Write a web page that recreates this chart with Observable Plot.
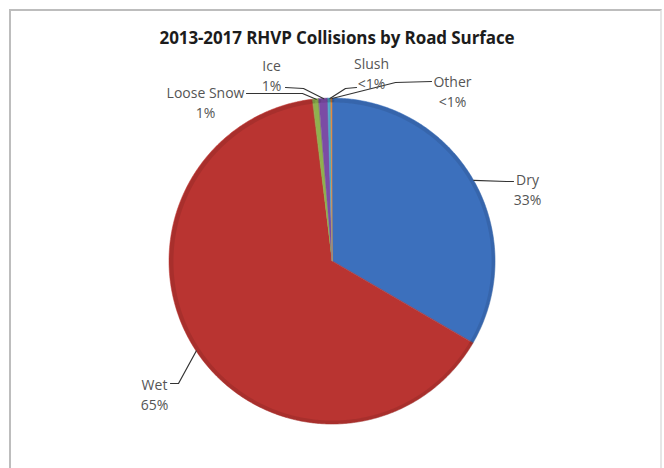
<!DOCTYPE html>
<html><head><meta charset="utf-8">
<script src="https://cdn.jsdelivr.net/npm/d3@7"></script>
<script src="https://cdn.jsdelivr.net/npm/@observablehq/plot@0.6"></script>
<style>
html,body{margin:0;padding:0;background:#fff;}
#wrap{position:relative;width:664px;height:468px;overflow:hidden;background:#fff;}
#frame{position:absolute;left:9px;top:9px;width:649px;height:480px;border:2px solid #bdbdbd;border-bottom:none;border-right-color:#e6e6e6;}
#title{position:absolute;left:5px;width:664px;top:26px;text-align:center;font-family:"Open Sans";font-weight:700;font-size:17px;color:#1c1c1c;letter-spacing:-0.1px;}
#chart{position:absolute;left:0;top:0;}
</style>
</head><body>
<div id="wrap"><div id="frame"></div><div id="chart"></div><div id="title">2013-2017 RHVP Collisions by Road Surface</div></div>
<script>
// ---- data ----
const categories = ["Dry", "Wet", "Loose Snow", "Ice", "Slush", "Other"];
const shares = [33.4, 64.7, 0.6, 0.9, 0.3, 0.1]; // percent
const colors = ["#3c70bd", "#b93431", "#8fb14e", "#7b4ca5", "#4aaac7", "#e8893a"];

// ---- layout (pixels) ----
const CX = 332, CY = 261, R = 163;
const u = (px, py) => ({x: (px - CX) / R, y: (CY - py) / R});
// label block centre, and leader path (elbow points) from label toward slice
const labelLayout = {
  "Dry":        {c: [527, 188], path: [[506, 181], [513, 181]]},
  "Wet":        {c: [154, 393], path: [[178, 383], [170, 383]]},
  "Loose Snow": {c: [205, 101], path: [[302, 93], [246, 93]]},
  "Ice":        {c: [271, 74],  path: [[303, 88], [285, 87]]},
  "Slush":      {c: [371, 72],  path: [[345, 88], [356, 87]]},
  "Other":      {c: [452, 90],  path: [[395, 82], [431, 81]]}
};

const pctText = v => v < 0.5 ? "<1%" : Math.round(v) + "%";
const arcs = d3.pie().sort(null).value(d => d)(shares);

const slicePts = [], rimPts = [], leaders = [], labels = [];
arcs.forEach((a, i) => {
  const cat = categories[i];
  const n = Math.max(2, Math.ceil((a.endAngle - a.startAngle) / 0.01));
  for (let k = 0; k <= n; k++) {
    const t = a.startAngle + (a.endAngle - a.startAngle) * k / n;
    slicePts.push({cat, x: Math.sin(t), y: Math.cos(t), cx: 0, cy: 0});
    rimPts.push({cat, x: 0.988 * Math.sin(t), y: 0.988 * Math.cos(t)});
  }
  const mid = (a.startAngle + a.endAngle) / 2;
  const L = labelLayout[cat];
  leaders.push({cat, x: Math.sin(mid), y: Math.cos(mid)});
  L.path.forEach(p => leaders.push({cat, ...u(p[0], p[1])}));
  labels.push({cat, ...u(L.c[0], L.c[1]), text: cat + "\n" + pctText(shares[i])});
});

const chart = Plot.plot({
  width: 664, height: 468, margin: 0,
  style: "background:transparent;overflow:visible",
  x: {domain: [-1, 1], range: [CX - R, CX + R], axis: null},
  y: {domain: [-1, 1], range: [CY + R, CY - R], axis: null},
  color: {domain: categories, range: colors},
  marks: [
    Plot.area(slicePts, {x1: "x", y1: "y", x2: "cx", y2: "cy", z: "cat", fill: "cat", stroke: "cat", strokeWidth: 0.5}),
    Plot.line(rimPts, {x: "x", y: "y", z: "cat", stroke: "black", strokeOpacity: 0.09, strokeWidth: 4}),
    Plot.line(leaders, {x: "x", y: "y", z: "cat", stroke: "#333", strokeWidth: 1.2}),
    Plot.text(labels, {x: "x", y: "y", text: "text", fontSize: 14, lineHeight: 1.45, fill: "#555", fontFamily: "Open Sans", lineAnchor: "middle"})
  ]
});
document.getElementById("chart").appendChild(chart);
</script>
</body></html>
